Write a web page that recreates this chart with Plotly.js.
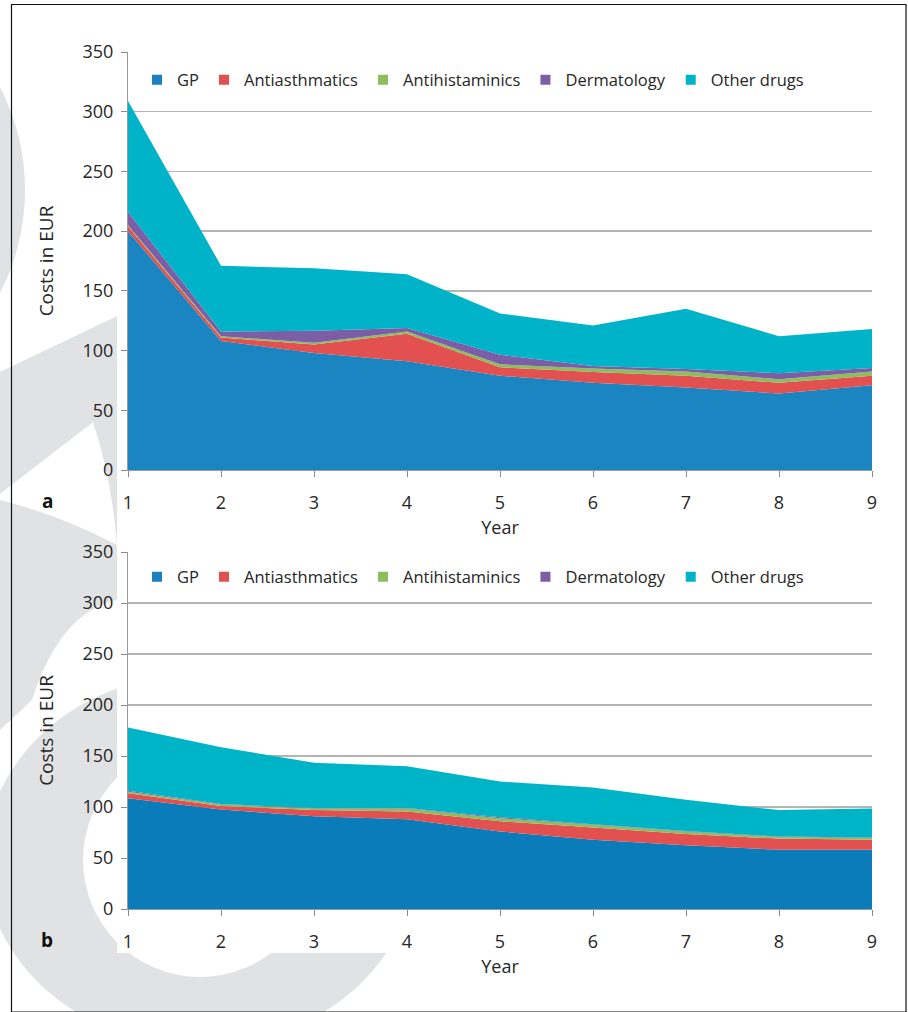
<!DOCTYPE html>
<html>
<head>
<meta charset="utf-8">
<script src="https://cdn.plot.ly/plotly-3.0.1.min.js"></script>
<style>html,body{margin:0;padding:0;background:#fff;}#chart{width:908px;height:1012px;}</style>
</head>
<body>
<div id="chart"></div>
<script>
// ---------- data ----------
const years = [1, 2, 3, 4, 5, 6, 7, 8, 9];
const seriesNames = ['GP', 'Antiasthmatics', 'Antihistaminics', 'Dermatology', 'Other drugs'];

// panel a
const gpA    = [200, 108, 98, 91, 79, 73, 69, 64, 71];
const asthA  = [4, 3, 7, 23, 7, 9, 10, 9, 8];
const histA  = [1, 1, 1.5, 2, 2.5, 3, 3.5, 3, 3.5];
const dermA  = [11, 4, 10, 3, 8, 2, 2, 5, 3];
const otherA = [93, 55, 52.5, 45, 34.5, 34, 50.5, 31, 32.5];

// panel b
const gpB    = [108.5, 97.5, 91, 88, 76, 68, 62.5, 58, 58];
const asthB  = [5, 3.5, 6, 7.5, 10, 12, 11, 11, 10];
const histB  = [1.5, 1.5, 1.5, 3, 3, 2.5, 2.5, 1.5, 1.5];
const dermB  = [1, 0.5, 0.5, 0.5, 1, 0.5, 0.5, 0.5, 0.5];
const otherB = [62, 55.5, 44.5, 41, 35, 36, 30.5, 26, 28.5];

const yTicks = [0, 50, 100, 150, 200, 250, 300, 350];
const panelLabels = ['a', 'b'];
const xTitle = 'Year';
const yTitle = 'Costs in EUR';

// ---------- style ----------
const colorsA = ['#1a85c1', '#e2504f', '#8dbd5c', '#7c5ea6', '#00b3c8'];
const colorsB = ['#0a7cba', '#e2504f', '#8dbd5c', '#7c5ea6', '#00b4c8'];
const legendColors = ['#1b7fc0', '#e2504f', '#8dbd5c', '#7c5ea6', '#00b3c8'];
const W = 908, H = 1012;
const FONT = 'Open Sans, Noto Sans, sans-serif';
const TXT = '#262626';
const px = (x) => x / W;
const py = (y) => 1 - y / H;
function pathPx(cmds) {
  return cmds.map(c => {
    const L = c[0];
    if (L === 'Z') return 'Z';
    const pts = [];
    for (let i = 1; i < c.length; i += 2) pts.push(px(c[i]) + ',' + py(c[i + 1]));
    return L + ' ' + pts.join(' ');
  }).join(' ');
}

const dataA = [gpA, asthA, histA, dermA, otherA];
const dataB = [gpB, asthB, histB, dermB, otherB];

const traces = [];
dataA.forEach((vals, i) => {
  traces.push({
    type: 'scatter', x: years, y: vals, name: seriesNames[i],
    stackgroup: 'a', mode: 'none', fillcolor: colorsA[i],
    xaxis: 'x', yaxis: 'y', showlegend: false
  });
});
dataB.forEach((vals, i) => {
  traces.push({
    type: 'scatter', x: years, y: vals, name: seriesNames[i],
    stackgroup: 'b', mode: 'none', fillcolor: colorsB[i],
    xaxis: 'x2', yaxis: 'y2', showlegend: false
  });
});
seriesNames.forEach((n, i) => {
  traces.push({ type: 'scatter', x: [null], y: [null], name: n, mode: 'markers',
    marker: { symbol: 'square', size: 10, color: legendColors[i] },
    xaxis: 'x', yaxis: 'y', legend: 'legend', showlegend: true });
  traces.push({ type: 'scatter', x: [null], y: [null], name: n, mode: 'markers',
    marker: { symbol: 'square', size: 10, color: legendColors[i] },
    xaxis: 'x2', yaxis: 'y2', legend: 'legend2', showlegend: true });
});

const GRID = '#b4b4b4';
function xAxis(anchor) {
  return {
    domain: [px(128), px(872)], range: [1, 9], anchor: anchor,
    tickmode: 'array', tickvals: years, ticktext: years.map(String),
    showgrid: false, zeroline: false, showline: true, linecolor: '#9a9a9a', linewidth: 1,
    ticks: 'outside', ticklen: 6, tickcolor: '#8a8a8a', tickwidth: 1,
    tickfont: { family: FONT, size: 18, color: TXT },
    ticklabelstandoff: 10,
    title: { text: xTitle, font: { family: FONT, size: 18, color: TXT }, standoff: 8 },
    fixedrange: true
  };
}
function yAxis(anchor, d0, d1) {
  return {
    domain: [py(d0), py(d1)], range: [0, 350], anchor: anchor,
    tickmode: 'array', tickvals: yTicks, ticktext: yTicks.map(String),
    showgrid: true, gridcolor: GRID, gridwidth: 1.5, zeroline: false,
    showline: true, linecolor: '#9a9a9a', linewidth: 1,
    ticks: 'outside', ticklen: 6, tickcolor: '#8a8a8a', tickwidth: 1,
    tickfont: { family: FONT, size: 18, color: TXT },
    ticklabelstandoff: 4,
    title: { text: yTitle, font: { family: FONT, size: 19, color: TXT }, standoff: 23 },
    fixedrange: true
  };
}

const WM = '#e1e2e4';
const shapes = [
  { type: 'circle', xref: 'paper', yref: 'paper', layer: 'below',
    x0: px(-425), x1: px(25), y0: py(415), y1: py(-35), fillcolor: WM, line: { width: 0 } },
  { type: 'path', xref: 'paper', yref: 'paper', layer: 'below', fillcolor: WM, line: { width: 0 },
    path: pathPx([['M', 0, 372], ['L', 117, 316], ['L', 117, 600], ['Q', 60, 612, 32, 700], ['L', 0, 730], ['Z']]) },
  { type: 'path', xref: 'paper', yref: 'paper', layer: 'below', fillcolor: '#ffffff', line: { width: 0 },
    path: pathPx([['M', 0, 494], ['L', 93, 422], ['Q', 112, 480, 117, 545], ['Q', 60, 515, 0, 500], ['Z']]) },
  { type: 'circle', xref: 'paper', yref: 'paper', layer: 'below',
    x0: px(-15), x1: px(415), y0: py(1046), y1: py(674), fillcolor: WM, line: { width: 0 } },
  { type: 'circle', xref: 'paper', yref: 'paper', layer: 'below',
    x0: px(83), x1: px(317), y0: py(977), y1: py(743), fillcolor: '#ffffff', line: { width: 0 } },
  { type: 'rect', xref: 'paper', yref: 'paper', layer: 'below',
    x0: px(117), x1: px(906), y0: py(953), y1: py(0), fillcolor: '#ffffff', line: { width: 0 } },
  { type: 'rect', xref: 'paper', yref: 'paper', layer: 'above',
    x0: px(11.5), x1: px(906), y0: py(1012), y1: py(4.5), fillcolor: 'rgba(0,0,0,0)', line: { color: '#111', width: 1.2 } }
];

const legendBase = {
  orientation: 'h', xanchor: 'left', yanchor: 'middle', x: px(137),
  traceorder: 'normal',
  bgcolor: 'rgba(0,0,0,0)', font: { family: FONT, size: 16.5, color: TXT },
  itemclick: false, itemdoubleclick: false, tracegroupgap: 0
};

const layout = {
  width: W, height: H,
  margin: { l: 0, r: 0, t: 0, b: 0, pad: 0 },
  paper_bgcolor: '#ffffff', plot_bgcolor: 'rgba(0,0,0,0)',
  showlegend: true,
  xaxis: xAxis('y'), yaxis: yAxis('x', 470, 52),
  xaxis2: xAxis('y2'), yaxis2: yAxis('x2', 909, 552),
  legend: Object.assign({}, legendBase, { y: py(80) }),
  legend2: Object.assign({}, legendBase, { y: py(577) }),
  shapes: shapes,
  annotations: [
    { text: '<b>' + panelLabels[0] + '</b>', xref: 'paper', yref: 'paper', x: px(47), y: py(501),
      showarrow: false, font: { family: FONT, size: 19, color: '#111' }, xanchor: 'center', yanchor: 'middle' },
    { text: '<b>' + panelLabels[1] + '</b>', xref: 'paper', yref: 'paper', x: px(47), y: py(940),
      showarrow: false, font: { family: FONT, size: 19, color: '#111' }, xanchor: 'center', yanchor: 'middle' }
  ],
  hovermode: false
};

Plotly.newPlot('chart', traces, layout, { displayModeBar: false, staticPlot: true });
</script>
</body>
</html>
